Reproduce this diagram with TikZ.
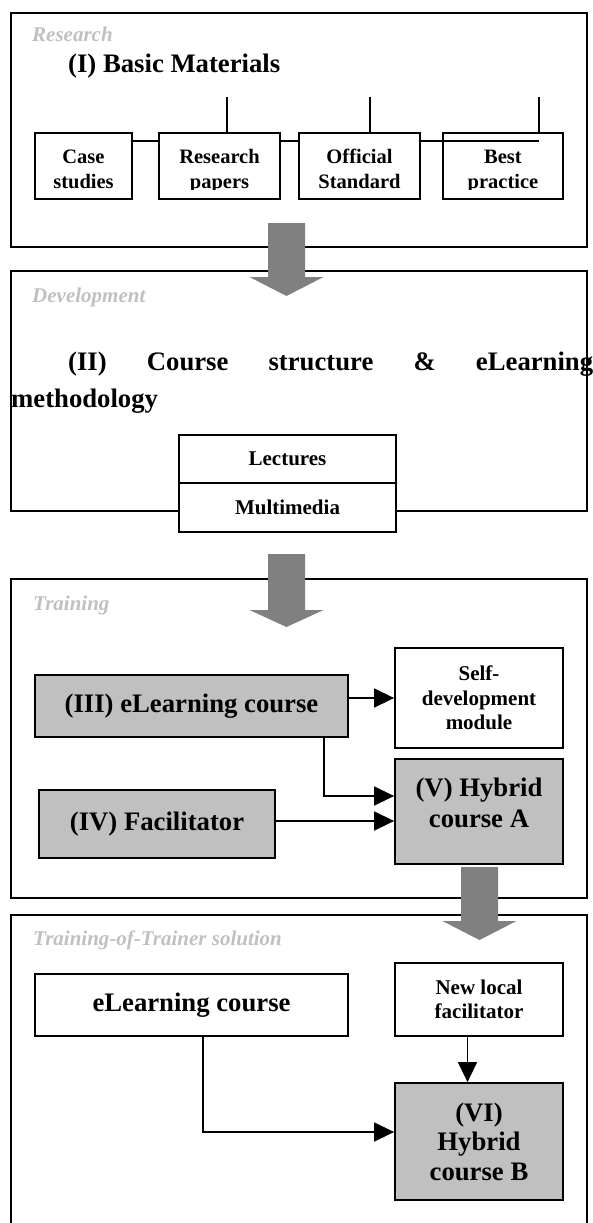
\documentclass[tikz,border=0pt]{standalone}
\usepackage{fontspec}
\setmainfont{Liberation Serif}
\usetikzlibrary{arrows.meta}
\definecolor{lblgray}{RGB}{192,192,192}
\definecolor{boxgray}{RGB}{192,192,192}
\definecolor{arrgray}{RGB}{128,128,128}
\newcommand\flowarrow[4]{%
  \fill[arrgray] ({#1-18.5},#2) -- ({#1+18.5},#2) -- ({#1+18.5},#3) -- ({#1+37},#3) -- (#1,#4) -- ({#1-37},#3) -- ({#1-18.5},#3) -- cycle;}
\begin{document}
\begin{tikzpicture}[x=1pt,y=-1pt,
  frame/.style={draw, line width=2pt},
  bx/.style={draw, line width=1.8pt, inner sep=0pt, align=center},
  conn/.style={line width=1.5pt},
  tip/.style={-{Triangle[length=20pt,width=19pt]}},
  lbl/.style={anchor=base west, inner sep=0pt, text=lblgray, font=\fontsize{21}{25}\selectfont\bfseries\itshape},
  big/.style={font=\fontsize{26.7}{31}\selectfont\bfseries},
  small/.style={font=\fontsize{21}{24.5}\selectfont\bfseries},
  stxt/.style={inner sep=0pt, anchor=base, font=\fontsize{20.5}{25}\selectfont\bfseries}]
\useasboundingbox (0,0) rectangle (593,1223);

% ---------- frames ----------
\draw[frame] (11,12.7) rectangle (587,247);
\draw[frame] (11,271) rectangle (587,511);
\draw[frame] (11,579) rectangle (587,898);
\draw[frame] (11,1224) -- (11,915) -- (587,915) -- (587,1224);

% ---------- labels ----------
\node[lbl] (L1) at (32,42) {Research};
\node[lbl] (L2) at (32,302) {Development};
\node[lbl] (L3) at (33,610) {Training};
\node[lbl] (L4) at (33,945) {Training-of-Trainer solution};

% ---------- Research ----------
\node[big, anchor=base west, inner sep=0pt] (T1) at (68,72) {(I) Basic Materials};
\node[bx, minimum width=97, minimum height=66] (CS) at (83.5,166) {};
\node[bx, minimum width=121, minimum height=66] (RP) at (219.5,166) {};
\node[bx, minimum width=121, minimum height=66] (OS) at (359.5,166) {};
\node[bx, minimum width=120, minimum height=66] (BP) at (503,166) {};
\begin{scope}
  \clip (0,0) rectangle (593,189.5);
  \node[stxt] (CSt) at (83.5,163) {\begin{tabular}[t]{@{}c@{}}Case\\studies\end{tabular}};
  \node[stxt] (RPt) at (219.5,163) {\begin{tabular}[t]{@{}c@{}}Research\\papers\end{tabular}};
  \node[stxt] (OSt) at (359.5,163) {\begin{tabular}[t]{@{}c@{}}Official\\Standard\end{tabular}};
  \node[stxt] (BPt) at (503,163) {\begin{tabular}[t]{@{}c@{}}Best\\practice\end{tabular}};
\end{scope}
\coordinate (v1) at (227,97);
\coordinate (v2) at (370,97);
\coordinate (v3) at (539,97);
\coordinate (hl) at (0,141);
\draw[conn] (v1) -- (v1 |- RP.north);
\draw[conn] (v2) -- (v2 |- OS.north);
\draw[conn] (v3) -- (v3 |- BP.north);
\draw[conn] (CS.east |- hl) -- (RP.west |- hl);
\draw[conn] (RP.east |- hl) -- (OS.west |- hl);
\draw[conn] (OS.east |- hl) -- (v3 |- hl);

% ---------- Development ----------
\node[big, anchor=base west, inner sep=0pt] (T2) at (11,370)
  {\fontsize{26.7}{37}\selectfont\parbox[t]{582pt}{\hyphenpenalty=10000\hspace*{57pt}(II) Course structure \& eLearning\linebreak methodology}};
\node[bx, fill=white, minimum width=217, minimum height=48, small] (Lec) at (287.5,459) {Lectures};
\node[bx, fill=white, minimum width=217, minimum height=49, small] (Mul) at (287.5,507.5) {Multimedia};

% ---------- Training ----------
\node[bx, fill=boxgray, minimum width=313, minimum height=62, big] (III) at (191.5,706) {(III) eLearning course};
\node[bx, minimum width=168, minimum height=100, small] (SD) at (479,698) {Self-\\development\\module};
\node[bx, fill=boxgray, minimum width=236, minimum height=68, big] (IV) at (157,824) {(IV) Facilitator};
\node[bx, fill=boxgray, minimum width=168, minimum height=105] (V) at (479,811.5) {};
\node[big, align=center, inner sep=0pt] (Vt) at ([yshift=9pt]V.center) {(V) Hybrid\\course A};
\draw[conn, tip] (III.east |- SD.west) -- (SD.west);
\draw[conn, tip] ([xshift=-25pt]III.south east) |- ([yshift=15.5pt]V.west);
\draw[conn, tip] ([yshift=3pt]IV.east) -- ([yshift=3pt]IV.east -| V.west);

% ---------- Training-of-Trainer ----------
\node[bx, minimum width=313, minimum height=62, big] (EL) at (191.5,1005) {eLearning course};
\node[bx, minimum width=168, minimum height=73, small] (NLF) at (479,999.5) {New local\\facilitator};
\node[bx, fill=boxgray, minimum width=168, minimum height=117, font=\fontsize{26.7}{29.5}\selectfont\bfseries] (VI) at (479,1141.5) {(VI)\\Hybrid\\course B};
\draw[conn, tip] ([xshift=-11.5pt]NLF.south) -- ([xshift=-11.5pt]VI.north);
\draw[conn, tip] ([xshift=11.5pt]EL.south) |- ([yshift=9.5pt]VI.west);

% ---------- block arrows ----------
\flowarrow{286.5}{223}{277}{296}
\flowarrow{286.5}{554}{610}{627}
\flowarrow{479.5}{867}{921}{940}
\end{tikzpicture}
\end{document}
